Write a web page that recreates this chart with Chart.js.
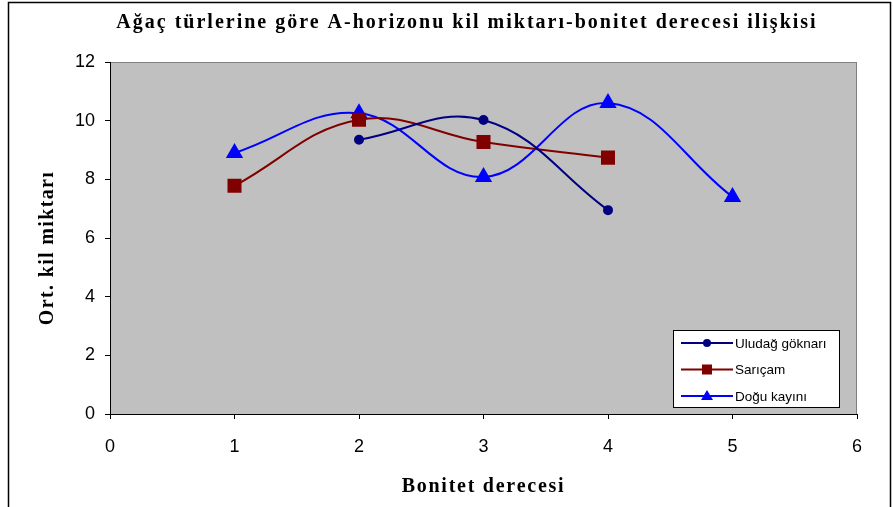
<!DOCTYPE html>
<html>
<head>
<meta charset="utf-8">
<script src="https://cdn.jsdelivr.net/npm/chart.js@4/dist/chart.umd.min.js"></script>
<style>
  html, body { margin: 0; padding: 0; background: #fff; }
  #wrap { width: 893px; height: 507px; }
</style>
</head>
<body>
<div id="wrap"><canvas id="myChart" width="893" height="507"></canvas></div>
<script>
var chartTitle = 'Ağaç türlerine göre A-horizonu kil miktarı-bonitet derecesi ilişkisi';
var xTitle = 'Bonitet derecesi';
var yTitle = 'Ort. kil miktarı';
var seriesNames = ['Uludağ göknarı', 'Sarıçam', 'Doğu kayını'];

var uludagX = [2, 3, 4];
var uludagY = [9.35, 10.02, 6.95];

var saricamX = [1, 2, 3, 4];
var saricamY = [7.78, 10.03, 9.27, 8.74];

var doguX = [1, 2, 3, 4, 5];
var doguY = [8.9, 10.25, 8.08, 10.6, 7.4];

var xTicks = [0, 1, 2, 3, 4, 5, 6];
var yTicks = [0, 2, 4, 6, 8, 10, 12];

function pts(xs, ys) {
  return xs.map(function (x, i) { return {x: x, y: ys[i]}; });
}

var serif = "'Liberation Serif', 'Times New Roman', serif";
var sans = "'Liberation Sans', Arial, sans-serif";

// grey plot area + outer frame
var backdrop = {
  id: 'backdrop',
  beforeDraw: function (chart) {
    var c = chart.ctx, a = chart.chartArea;
    c.save();
    c.fillStyle = '#fff';
    c.fillRect(0, 0, chart.width, chart.height);
    c.strokeStyle = '#000';
    c.lineWidth = 1.5;
    c.strokeRect(8.5, 2.5, 882, 520);
    c.fillStyle = '#C0C0C0';
    c.fillRect(a.left, a.top, a.right - a.left, a.bottom - a.top);
    c.strokeStyle = '#808080';
    c.lineWidth = 1;
    c.strokeRect(a.left + 0.5, a.top + 0.5, a.right - a.left - 1, a.bottom - a.top);
    c.restore();
  }
};

// spaced-out serif titles, as in the Excel original
var titles = {
  id: 'titles',
  afterDraw: function (chart) {
    var c = chart.ctx, a = chart.chartArea;
    c.save();
    c.fillStyle = '#000';
    c.font = 'bold 20px ' + serif;
    c.textAlign = 'center';
    c.textBaseline = 'alphabetic';
    c.letterSpacing = '2px';
    c.fillText(chartTitle, 467, 28);
    c.letterSpacing = '1.75px';
    c.fillText(xTitle, (a.left + a.right) / 2, 492);
    c.letterSpacing = '1.35px';
    c.translate(53, (a.top + a.bottom) / 2 + 10);
    c.rotate(-Math.PI / 2);
    c.fillText(yTitle, 0, 0);
    c.restore();
  }
};

// legend box sitting inside the plot area
var boxLegend = {
  id: 'boxLegend',
  afterDatasetsDraw: function (chart) {
    var c = chart.ctx;
    var bx = 673, by = 330, bw = 166, bh = 77;
    c.save();
    c.fillStyle = '#fff';
    c.fillRect(bx, by, bw, bh);
    c.strokeStyle = '#000';
    c.lineWidth = 1;
    c.strokeRect(bx + 0.5, by + 0.5, bw, bh);
    c.font = '13.5px ' + sans;
    c.textBaseline = 'middle';
    chart.data.datasets.forEach(function (ds, i) {
      var y = by + 13 + i * 26.5;
      var mx = bx + 34;
      c.strokeStyle = ds.borderColor;
      c.lineWidth = 2;
      c.beginPath();
      c.moveTo(bx + 8, y);
      c.lineTo(bx + 60, y);
      c.stroke();
      c.fillStyle = ds.pointBackgroundColor;
      var r = ds.legendRadius;
      if (ds.pointStyle === 'circle') {
        c.beginPath(); c.arc(mx, y, r, 0, Math.PI * 2); c.fill();
      } else if (ds.pointStyle === 'rect') {
        c.fillRect(mx - r, y - r, 2 * r, 2 * r);
      } else {
        c.beginPath();
        c.moveTo(mx, y - r - 1);
        c.lineTo(mx + r + 1, y + r - 1);
        c.lineTo(mx - r - 1, y + r - 1);
        c.closePath(); c.fill();
      }
      c.fillStyle = '#000';
      c.fillText(ds.label, bx + 62, y + 1);
    });
    c.restore();
  }
};

new Chart('myChart', {
  type: 'scatter',
  data: {
    datasets: [{
      label: seriesNames[0],
      data: pts(uludagX, uludagY),
      borderColor: '#000080',
      pointBackgroundColor: '#000080',
      pointBorderColor: '#000080',
      pointStyle: 'circle',
      pointRadius: 4,
      legendRadius: 4,
      showLine: true,
      borderWidth: 2,
      tension: 0.4
    }, {
      label: seriesNames[1],
      data: pts(saricamX, saricamY),
      borderColor: '#800000',
      pointBackgroundColor: '#800000',
      pointBorderColor: '#800000',
      pointStyle: 'rect',
      pointRadius: 8.5,
      legendRadius: 5,
      showLine: true,
      borderWidth: 2,
      tension: 0.4
    }, {
      label: seriesNames[2],
      data: pts(doguX, doguY),
      borderColor: '#0000FF',
      pointBackgroundColor: '#0000FF',
      pointBorderColor: '#0000FF',
      pointStyle: 'triangle',
      pointRadius: 8,
      legendRadius: 5,
      showLine: true,
      borderWidth: 2,
      tension: 0.4
    }]
  },
  options: {
    responsive: false,
    animation: false,
    layout: {padding: {left: 9, right: 36, top: 62, bottom: 0}},
    plugins: {
      legend: {display: false},
      tooltip: {enabled: false},
      title: {display: false}
    },
    scales: {
      x: {
        type: 'linear',
        min: 0, max: 6,
        afterBuildTicks: function (s) { s.ticks = xTicks.map(function (v) { return {value: v}; }); },
        afterFit: function (s) { s.height = 93; },
        grid: {drawOnChartArea: false, drawTicks: true, tickLength: 5, color: '#000'},
        border: {color: '#000', width: 1},
        ticks: {color: '#000', font: {family: sans, size: 18}, padding: 17, maxRotation: 0}
      },
      y: {
        min: 0, max: 12,
        afterBuildTicks: function (s) { s.ticks = yTicks.map(function (v) { return {value: v}; }); },
        afterFit: function (s) { s.width = 101; },
        grid: {drawOnChartArea: false, drawTicks: true, tickLength: 5, color: '#000'},
        border: {color: '#000', width: 1},
        ticks: {color: '#000', font: {family: sans, size: 18}, padding: 10}
      }
    }
  },
  plugins: [backdrop, titles, boxLegend]
});
</script>
</body>
</html>
